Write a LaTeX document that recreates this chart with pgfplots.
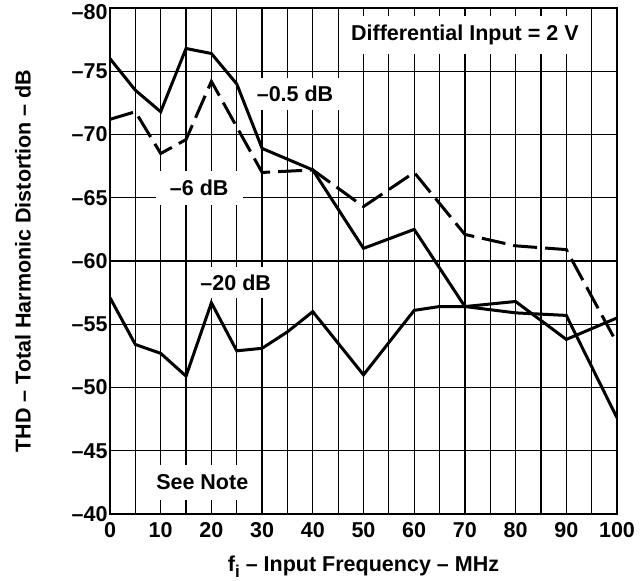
\documentclass[border=0pt]{standalone}
\usepackage{fontspec}
\setmainfont{Liberation Sans}
\usepackage{pgfplots}
\pgfplotsset{compat=1.18}
\pgfplotstableread{
x y
0 -76.0
5 -73.5
10 -71.8
15 -76.8
20 -76.4
25 -74.0
30 -68.9
40 -67.2
50 -61.0
60 -62.5
70 -56.4
80 -55.9
90 -55.7
100 -47.6
}\halfdB
\pgfplotstableread{
x y
0 -71.2
5 -71.8
10 -68.5
15 -69.6
20 -74.2
30 -67.0
35 -67.1
40 -67.2
50 -64.3
60 -67.0
70 -62.1
80 -61.2
90 -60.9
100 -53.5
}\sixdB
\pgfplotstableread{
x y
0 -57.1
5 -53.4
10 -52.7
15 -50.9
20 -56.7
25 -52.9
30 -53.1
35 -54.4
40 -56.0
50 -51.0
60 -56.1
65 -56.4
70 -56.4
80 -56.8
90 -53.8
100 -55.5
}\twentydB
\begin{document}
\begin{tikzpicture}[font=\fontsize{21.5bp}{25bp}\selectfont\bfseries]
\begin{axis}[
  scale only axis, width=507bp, height=506bp,
  xmin=0, xmax=100, ymin=-80, ymax=-40, y dir=reverse,
  xtick={0,10,...,100}, minor xtick={5,15,...,95},
  ytick={-80,-75,...,-40},
  yticklabels={\raisebox{-4bp}[15.4bp][0pt]{–80},–75,–70,–65,–60,–55,–50,–45,–40},
  xticklabels={0,10,20,30,40,50,60,70,80,90,100},
  grid=both,
  major grid style={line width=1.2bp, black},
  minor grid style={line width=1.2bp, black},
  major tick length=0pt, minor tick length=0pt,
  axis line style={line width=2.6bp},
  xticklabel style={yshift=-5bp},
  yticklabel style={xshift=1bp},
  xlabel={f\raisebox{-0.28em}{\fontsize{17bp}{20bp}\selectfont i} – Input Frequency – MHz},
  ylabel={THD – Total Harmonic Distortion – dB},
  every axis x label/.style={at={(axis description cs:0.5,-0.1047)}, anchor=center},
  every axis y label/.style={at={(axis description cs:-0.1716,0.5)}, anchor=center, rotate=90},
]
\addplot[line width=3bp, black] table {\halfdB};
\addplot[line width=3bp, black, dash pattern=on 24bp off 8bp] table {\sixdB};
\addplot[line width=3bp, black] table {\twentydB};
\node[fill=white, inner xsep=8bp, inner ysep=9bp] at (axis cs:70,-77.9) {Differential Input = 2 V};
\node[fill=white, inner xsep=6bp, inner ysep=8bp] at (axis cs:36.5,-73.2) {–0.5 dB};
\node[fill=white, inner xsep=14bp, inner ysep=9bp] at (axis cs:17.6,-65.8) {–6 dB};
\node[fill=white, inner xsep=6bp, inner ysep=8bp] at (axis cs:24.8,-58.3) {–20 dB};
\node[fill=white, inner xsep=12bp, inner ysep=10bp] at (axis cs:18.2,-42.5) {See Note};
\end{axis}
\pgfresetboundingbox
\useasboundingbox (-110bp,-67bp) rectangle (533bp,514bp);
\end{tikzpicture}
\end{document}
